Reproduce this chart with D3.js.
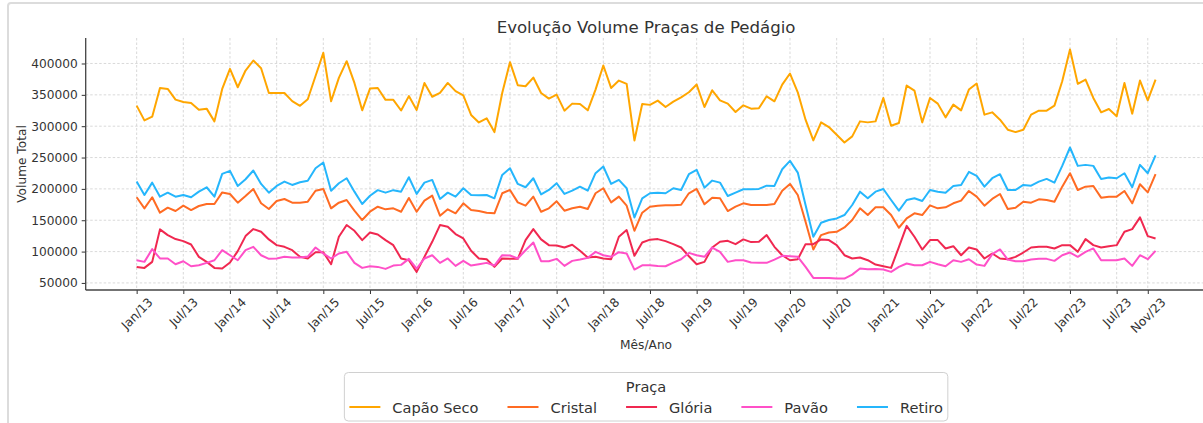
<!DOCTYPE html>
<html>
<head>
<meta charset="utf-8">
<script src="https://cdn.jsdelivr.net/npm/d3@7"></script>
<style>
  html, body { margin: 0; padding: 0; background: #fff; }
  svg { display: block; font-family: "DejaVu Sans", sans-serif; }
</style>
</head>
<body>
<svg id="chart" width="1203" height="423"></svg>
<script>
// categorias: meses de Jan/13 a Dez/23
const anos = [13, 14, 15, 16, 17, 18, 19, 20, 21, 22, 23];
const mesesAbrev = ["Jan", "Fev", "Mar", "Abr", "Mai", "Jun", "Jul", "Ago", "Set", "Out", "Nov", "Dez"];
const meses = anos.flatMap(a => mesesAbrev.map(m => `${m}/${a}`));

const rotulosEixoX = ["Jan/13", "Jul/13", "Jan/14", "Jul/14", "Jan/15", "Jul/15", "Jan/16", "Jul/16",
  "Jan/17", "Jul/17", "Jan/18", "Jul/18", "Jan/19", "Jul/19", "Jan/20", "Jul/20", "Jan/21", "Jul/21",
  "Jan/22", "Jul/22", "Jan/23", "Jul/23", "Nov/23"];
const ticksY = [50000, 100000, 150000, 200000, 250000, 300000, 350000, 400000];

const pracas = ["Capão Seco", "Cristal", "Glória", "Pavão", "Retiro"];
const cores = ["#FFA600", "#FF6B23", "#F02850", "#FF50C8", "#25B6FC"];

// volume total por mes (uma linha por ano)
const capaoSeco = [
  332800, 309300, 315200, 361000, 359400, 342400, 338600, 337000, 326300, 328000, 307700, 359400,
  391500, 362100, 388800, 404800, 392500, 353000, 353000, 353000, 340000, 332500, 343000, 380000,
  417000, 339700, 377000, 403700, 369000, 325300, 360000, 361000, 342000, 342000, 325000, 348000,
  326000, 369000, 347000, 353000, 369000, 356000, 349000, 318000, 306000, 312500, 290600, 353000,
  402100, 365300, 363700, 377600, 353000, 344000, 350400, 324800, 336000, 335400, 325300, 358400,
  396800, 361000, 372800, 367500, 277300, 335400, 334000, 340800, 330600, 339200, 346100, 354100,
  366400, 330600, 357300, 341300, 336000, 322600, 333300, 328000, 328500, 347700, 339700, 366400,
  384000, 354100, 310400, 277300, 306100, 298600, 286300, 274100, 283700, 307700, 306100, 307700,
  345000, 300800, 305000, 364800, 356800, 306100, 345000, 336000, 314100, 334400, 325300, 358400,
  368000, 318400, 322100, 310400, 294400, 290600, 294400, 318400, 324800, 324800, 332800, 371700,
  422400, 367500, 374400, 345000, 322100, 327400, 315700, 369000, 320000, 372800, 341300, 374400
];
const cristal = [
  186600, 169000, 186600, 162000, 170000, 164700, 173200, 166300, 172700, 175900, 175900, 194400,
  191900, 178000, 188700, 199900, 177000, 167900, 180700, 183900, 178000, 178000, 179600, 197000,
  199900, 169000, 178000, 182300, 165200, 150300, 163600, 171600, 167400, 169000, 163600, 185500,
  163600, 181200, 189200, 157200, 167400, 161000, 177000, 166300, 164700, 162000, 161000, 193000,
  198300, 178500, 173200, 187600, 163600, 169000, 180200, 165200, 169000, 171600, 167900, 193000,
  201000, 178500, 187600, 173200, 133200, 162000, 171600, 173200, 173800, 173800, 174800, 193000,
  199900, 175400, 186000, 185000, 164700, 171600, 177000, 174300, 174300, 174300, 175900, 197200,
  207900, 190300, 147600, 103300, 126300, 130500, 131600, 138500, 150300, 169000, 158300, 170600,
  170600, 158300, 138000, 152900, 161000, 158300, 173800, 169000, 170600, 177000, 181200, 196700,
  187600, 173200, 184000, 191900, 167900, 170000, 179600, 178000, 183400, 182300, 179600, 203600,
  225000, 198300, 203600, 204700, 186000, 187600, 187600, 196700, 177000, 207400, 194400, 223400
];
const gloria = [
  75600, 74000, 83600, 135400, 126300, 120000, 116700, 111300, 91600, 83600, 74000, 72900,
  82500, 100700, 124700, 135900, 131600, 119400, 110300, 107600, 102200, 91600, 89000, 99000,
  99000, 79800, 123600, 142300, 133200, 118300, 130500, 127300, 118300, 110300, 89000, 86300,
  67600, 91600, 115600, 142300, 139600, 127900, 121000, 101200, 89000, 87800, 75600, 89000,
  88400, 88400, 118300, 135900, 119400, 110300, 109700, 106500, 110800, 101200, 90500, 91600,
  89000, 87800, 123600, 134300, 93200, 114500, 119000, 119900, 116700, 111900, 106500, 92600,
  79800, 83600, 106500, 115600, 117200, 111900, 119400, 115100, 115600, 126300, 107600, 94200,
  86200, 87800, 111900, 111900, 119400, 118300, 110300, 94200, 89000, 90500, 86200, 79300,
  76600, 74000, 107000, 141000, 123600, 103300, 118300, 118300, 104900, 108600, 94200, 106500,
  103300, 89000, 97000, 89000, 87800, 91600, 98500, 106500, 107600, 107600, 104900, 110300,
  110300, 99600, 119900, 110300, 106500, 108600, 110300, 131600, 135900, 154500, 124700, 121000
];
const pavao = [
  86200, 83600, 103900, 89000, 89000, 79800, 84600, 76600, 78200, 82000, 86200, 102200,
  94200, 86200, 102200, 107600, 94200, 88400, 89000, 91600, 90500, 90500, 92000, 106500,
  97000, 89000, 97000, 99600, 82000, 74000, 76600, 75600, 72400, 77700, 78800, 88400,
  73000, 89000, 94200, 82000, 89000, 77200, 85200, 77700, 79800, 82000, 77700, 94200,
  93700, 89000, 102200, 114500, 84600, 84600, 88400, 77200, 85200, 87300, 90000, 99600,
  94200, 91600, 99000, 97000, 71300, 78200, 78200, 77200, 76600, 82500, 87800, 97900,
  94200, 91600, 106500, 99600, 83600, 86200, 86200, 82500, 82000, 82000, 87300, 93200,
  92600, 91600, 75600, 58000, 58000, 58000, 57000, 57000, 63300, 72900, 71800, 72400,
  71300, 67600, 75600, 81000, 78200, 78200, 83600, 79800, 76600, 86200, 83600, 87800,
  79300, 77200, 96000, 103400, 87300, 84600, 84600, 87300, 88400, 88400, 85200, 94200,
  98500, 91600, 99600, 105000, 86200, 86200, 86200, 89000, 77200, 94200, 87800, 101200
];
const retiro = [
  211600, 190300, 210000, 187600, 194000, 187600, 190300, 186600, 195600, 202600, 187600, 223900,
  228700, 204700, 215400, 229300, 207900, 194000, 204700, 211600, 206300, 210600, 213000, 233000,
  242000, 197000, 209000, 217000, 195600, 176000, 189000, 198000, 194000, 198000, 195600, 218600,
  192000, 210000, 214300, 184000, 194000, 187600, 201000, 190300, 189800, 190300, 185000, 222300,
  233000, 207900, 202600, 217000, 191300, 198300, 209000, 192000, 197300, 203600, 197300, 225000,
  235700, 207900, 214300, 201000, 154500, 185000, 193000, 194000, 193000, 201000, 198300, 223400,
  230400, 202000, 213200, 210000, 188700, 194000, 199400, 199400, 199900, 205200, 204700, 231400,
  244700, 226000, 174300, 123600, 146000, 150300, 152900, 158300, 174300, 195600, 185000, 195600,
  199900, 182300, 165200, 182300, 185000, 180700, 198300, 195600, 194000, 204700, 206300, 227100,
  220700, 203600, 217000, 223400, 198300, 198300, 206300, 205200, 211600, 215900, 210000, 236700,
  266000, 236700, 238300, 236700, 215900, 218000, 217000, 225000, 202600, 238300, 225000, 253300
];

const series = [capaoSeco, cristal, gloria, pavao, retiro];

const svg = d3.select("#chart");
const textColor = "#333";
const margin = {left: 85.7, top: 38, right: 1206.5, bottom: 290};

// moldura da figura
svg.append("rect")
  .attr("x", 8).attr("y", 3).attr("width", 1400).attr("height", 600)
  .attr("rx", 3)
  .attr("fill", "#fff").attr("stroke", "#dcdcdc").attr("stroke-width", 2);

// escalas com margem de 5% (como o matplotlib)
const nMax = meses.length - 1;
const x = d3.scaleLinear()
  .domain([-0.05 * nMax, nMax * 1.05])
  .range([margin.left, margin.right]);

const allVals = series.flat();
const yMin = d3.min(allVals), yMax = d3.max(allVals);
const yPad = (yMax - yMin) * 0.05;
const y = d3.scaleLinear()
  .domain([yMin - yPad, yMax + yPad])
  .range([margin.bottom, margin.top]);

const tickIdx = rotulosEixoX.map(r => meses.indexOf(r));

// grade
const grid = svg.append("g")
  .attr("stroke", "#cfcfcf").attr("stroke-width", 0.8).attr("stroke-dasharray", "2.5,2");
grid.selectAll("line.gx").data(tickIdx).join("line")
  .attr("x1", d => x(d)).attr("x2", d => x(d))
  .attr("y1", margin.top).attr("y2", margin.bottom);
grid.selectAll("line.gy").data(ticksY).join("line")
  .attr("x1", margin.left).attr("x2", margin.right)
  .attr("y1", d => y(d)).attr("y2", d => y(d));

// linhas
const line = d3.line().x((d, i) => x(i)).y(d => y(d));
svg.append("g")
  .attr("fill", "none")
  .attr("stroke-width", 2)
  .attr("stroke-linejoin", "round")
  .selectAll("path")
  .data(series)
  .join("path")
  .attr("stroke", (d, i) => cores[i])
  .attr("d", line);

// eixo Y
const yAxis = svg.append("g")
  .attr("transform", `translate(${margin.left},0)`)
  .call(d3.axisLeft(y).tickValues(ticksY).tickSize(4).tickPadding(4).tickFormat(d3.format("d")));
yAxis.select(".domain").remove();
yAxis.selectAll(".tick line").attr("stroke", textColor).attr("stroke-width", 1);
yAxis.selectAll("text").attr("fill", textColor).style("font-size", "12.2px")
  .style("font-family", "DejaVu Sans");

// eixo X
const xAxis = svg.append("g")
  .attr("transform", `translate(0,${margin.bottom})`)
  .call(d3.axisBottom(x).tickValues(tickIdx).tickSize(4).tickFormat((d, i) => rotulosEixoX[i]));
xAxis.select(".domain").remove();
xAxis.selectAll(".tick line").attr("stroke", textColor).attr("stroke-width", 1);
xAxis.selectAll(".tick text")
  .attr("fill", textColor)
  .style("font-size", "12.2px")
  .style("font-family", "DejaVu Sans")
  .attr("text-anchor", "middle")
  .attr("dominant-baseline", "central")
  .each(function () {
    const w = this.getComputedTextLength();
    const hb = (w + 12) * Math.SQRT1_2;
    const cy = 6 + hb / 2;
    d3.select(this).attr("x", 0).attr("y", cy).attr("dy", null)
      .attr("transform", `rotate(-45,0,${cy})`);
  });

// spines
svg.append("line")
  .attr("x1", margin.left).attr("x2", margin.left)
  .attr("y1", margin.top).attr("y2", margin.bottom)
  .attr("stroke", "#444").attr("stroke-width", 1.3);
svg.append("line")
  .attr("x1", margin.left).attr("x2", margin.right)
  .attr("y1", margin.bottom).attr("y2", margin.bottom)
  .attr("stroke", "#444").attr("stroke-width", 1.3);

// titulos
const cx = (margin.left + margin.right) / 2;
svg.append("text")
  .attr("x", cx).attr("y", 27)
  .attr("text-anchor", "middle").attr("dominant-baseline", "central")
  .attr("fill", textColor).style("font-size", "16.6px")
  .text("Evolução Volume Praças de Pedágio");
svg.append("text")
  .attr("x", cx).attr("y", 345)
  .attr("text-anchor", "middle").attr("dominant-baseline", "central")
  .attr("fill", textColor).style("font-size", "12.2px")
  .text("Mês/Ano");
svg.append("text")
  .attr("transform", `translate(22,${(margin.top + margin.bottom) / 2}) rotate(-90)`)
  .attr("text-anchor", "middle").attr("dominant-baseline", "central")
  .attr("fill", textColor).style("font-size", "12.2px")
  .text("Volume Total");

// legenda
const legFont = 14.6, handleLen = 31, handlePad = 12, colSpace = 29, boxPad = 5;
const legend = svg.append("g");
const box = legend.append("rect")
  .attr("fill", "#fff").attr("fill-opacity", 0.8)
  .attr("stroke", "#d0d0d0").attr("stroke-width", 1).attr("rx", 4);
const items = legend.selectAll("g.item").data(pracas).join("g").attr("class", "item");
items.append("line")
  .attr("x1", 0).attr("x2", handleLen).attr("y1", 0).attr("y2", 0)
  .attr("stroke", (d, i) => cores[i]).attr("stroke-width", 2);
items.append("text")
  .attr("x", handleLen + handlePad).attr("y", 0)
  .attr("dominant-baseline", "central")
  .attr("fill", textColor).style("font-size", legFont + "px")
  .text(d => d);
const widths = [];
items.each(function () { widths.push(d3.select(this).select("text").node().getComputedTextLength()); });
const total = d3.sum(widths, w => handleLen + handlePad + w) + colSpace * (pracas.length - 1);
const legLeft = cx - total / 2;
let acc = legLeft;
items.attr("transform", (d, i) => {
  const t = `translate(${acc},407)`;
  acc += handleLen + handlePad + widths[i] + colSpace;
  return t;
});
box.attr("x", legLeft - boxPad).attr("y", 372.5)
  .attr("width", total + 2 * boxPad).attr("height", 48.5);
legend.append("text")
  .attr("x", cx).attr("y", 386)
  .attr("text-anchor", "middle").attr("dominant-baseline", "central")
  .attr("fill", textColor).style("font-size", legFont + "px")
  .text("Praça");
</script>
</body>
</html>
